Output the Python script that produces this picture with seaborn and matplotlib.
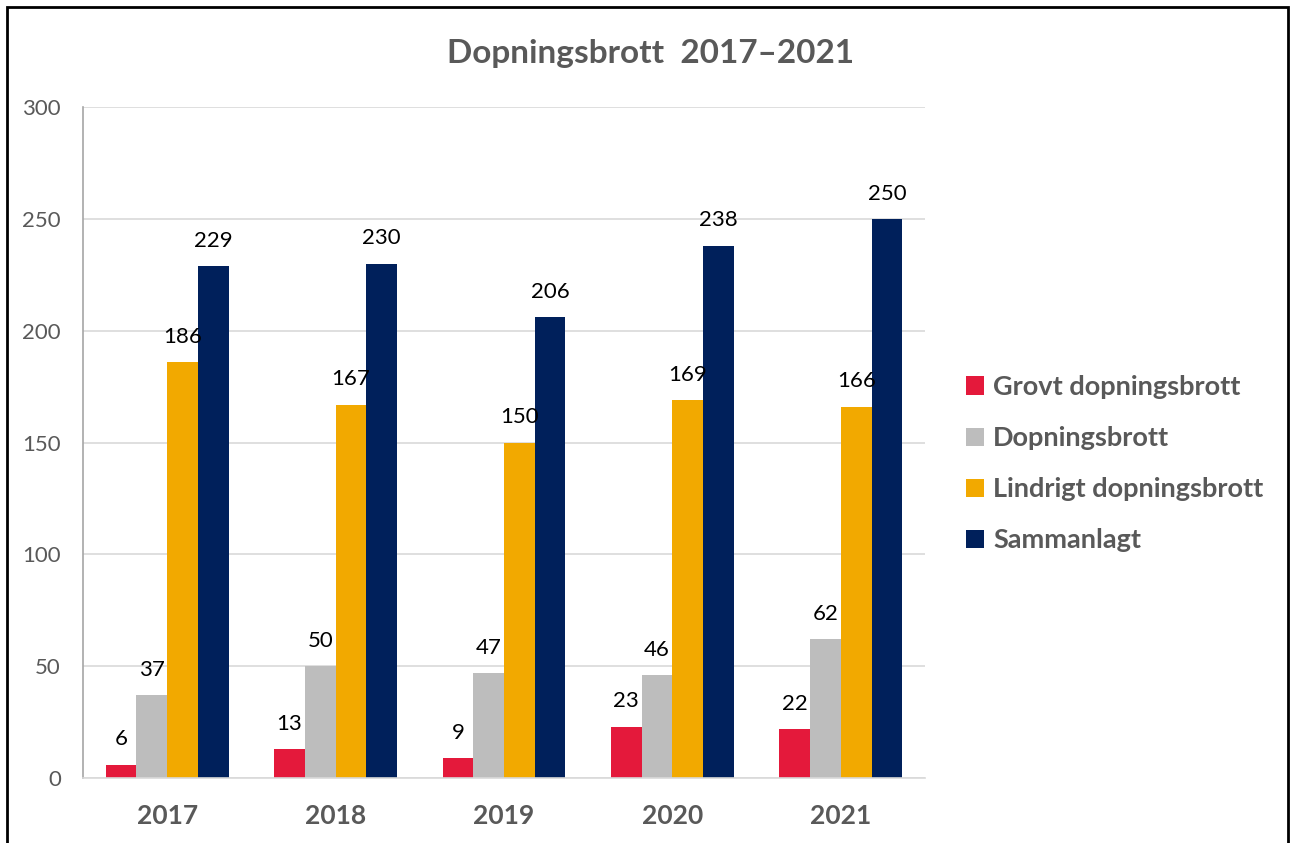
import pandas as pd
import matplotlib.pyplot as plt
import seaborn as sns
from matplotlib.patches import Rectangle

years = ['2017', '2018', '2019', '2020', '2021']
series = ['Grovt dopningsbrott', 'Dopningsbrott', 'Lindrigt dopningsbrott', 'Sammanlagt']
grovt = [6, 13, 9, 23, 22]
dopning = [37, 50, 47, 46, 62]
lindrigt = [186, 167, 150, 169, 166]
totalt = [229, 230, 206, 238, 250]
colors = ['#E4193B', '#BDBDBD', '#F2A900', '#00205B']

df = pd.DataFrame({'year': years * 4,
                   'serie': [s for s in series for _ in years],
                   'value': grovt + dopning + lindrigt + totalt})

sns.set_style('white')
plt.rcParams['font.family'] = ['Lato', 'DejaVu Sans']
grey = '#595959'

fig = plt.figure(figsize=(12.91, 8.43), dpi=100)
ax = fig.add_axes([0.0643, 0.0771, 0.6522, 0.7959])
sns.barplot(data=df, x='year', y='value', hue='serie', palette=colors,
            width=0.73, saturation=1, linewidth=0, edgecolor='none',
            ax=ax, legend=True)

for cont in ax.containers:
    ax.bar_label(cont, padding=11, fontsize=16, color='black')

ax.set_ylim(0, 300)
ax.set_xlim(-0.5, 4.5)
ax.set_yticks(range(0, 301, 50))
ax.yaxis.grid(True, color='#D9D9D9', linewidth=1.2)
ax.set_axisbelow(True)
for s in ['top', 'right']:
    ax.spines[s].set_visible(False)
ax.spines['left'].set_color('#A6A6A6')
ax.spines['bottom'].set_color('#D9D9D9')
ax.spines['left'].set_linewidth(1.2)
ax.spines['bottom'].set_linewidth(1.2)
ax.tick_params(axis='y', labelsize=16, labelcolor=grey, length=0, pad=16)
ax.tick_params(axis='x', labelsize=19, labelcolor=grey, length=0, pad=19)
for t in ax.get_xticklabels():
    t.set_fontweight('bold')
ax.set_xlabel('')
ax.set_ylabel('')

leg = ax.legend(loc='upper left', bbox_to_anchor=(1.02, 0.637), frameon=False,
                fontsize=19.5, handlelength=0.65, handleheight=0.65,
                handletextpad=0.35, labelspacing=1.0)
for t in leg.get_texts():
    t.set_color(grey)
    t.set_fontweight('bold')

fig.text(0.504, 0.936, 'Dopningsbrott  2017\u20132021', ha='center', va='center',
         fontsize=24, fontweight='bold', color=grey)

fig.patches.append(Rectangle((0.0055, -0.01), 0.992, 1.0017, transform=fig.transFigure,
                             fill=False, edgecolor='black', linewidth=2))

fig.savefig('out.png', dpi=100)
